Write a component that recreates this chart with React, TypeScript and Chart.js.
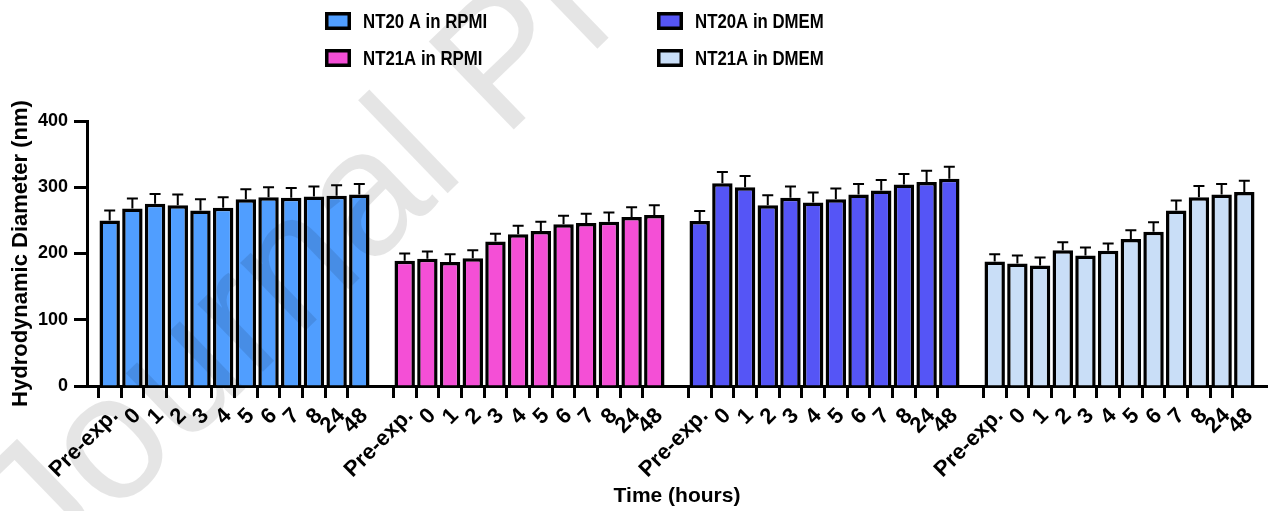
import React, { useEffect, useRef } from "react";
import { Chart, registerables } from "chart.js";

Chart.register(...registerables);

// ---------- data ----------
const timepoints = ["Pre-exp.", "0", "1", "2", "3", "4", "5", "6", "7", "8", "24", "48"];
const seriesNames = ["NT20 A in RPMI", "NT21A in RPMI", "NT20A in DMEM", "NT21A in DMEM"];
const seriesColors = ["#509EFF", "#F44FD6", "#5555F6", "#C9DEF7"];

const nt20aRpmi = [250, 268, 275, 273, 265, 269, 282, 285, 284, 286, 287, 289];
const nt20aRpmiSd = [15, 15, 15, 16, 17, 16, 15, 15, 15, 15, 16, 16];
const nt21aRpmi = [189, 192, 187, 193, 218, 229, 234, 244, 246, 248, 255, 258];
const nt21aRpmiSd = [11, 11, 12, 12, 12, 13, 14, 13, 14, 14, 15, 15];
const nt20aDmem = [249, 306, 300, 273, 284, 277, 282, 289, 295, 304, 308, 313];
const nt20aDmemSd = [15, 17, 17, 15, 17, 15, 16, 16, 16, 16, 17, 18];
const nt21aDmem = [188, 185, 182, 205, 197, 204, 222, 233, 265, 285, 289, 293];
const nt21aDmemSd = [11, 12, 12, 12, 12, 11, 13, 14, 15, 17, 16, 17];

const yTicks = [0, 100, 200, 300, 400];
const yTitle = "Hydrodynamic Diameter (nm)";
const xTitle = "Time (hours)";
const watermarkText = "Journal Pre-proof";

const FONT = '"Liberation Sans", Arial, Helvetica, sans-serif';

const groupValues = [nt20aRpmi, nt21aRpmi, nt20aDmem, nt21aDmem];
const groupErrors = [nt20aRpmiSd, nt21aRpmiSd, nt20aDmemSd, nt21aDmemSd];

// category slots: empty slot, group, empty slot, group, ... , empty slot
const labels: string[] = [""];
groupValues.forEach(() => {
  labels.push(...timepoints);
  labels.push("");
});

function spread(values: number[], gi: number): (number | null)[] {
  const out: (number | null)[] = labels.map(() => null);
  values.forEach((v, j) => {
    out[1 + gi * (timepoints.length + 1) + j] = v;
  });
  return out;
}

const errorBarPlugin = {
  id: "errorBars",
  afterDatasetsDraw(chart: any) {
    const ctx = chart.ctx;
    const y = chart.scales.y;
    ctx.save();
    ctx.strokeStyle = "#000";
    ctx.lineWidth = 2;
    chart.data.datasets.forEach((ds: any, di: number) => {
      const meta = chart.getDatasetMeta(di);
      meta.data.forEach((bar: any, i: number) => {
        const v = ds.data[i];
        const e = ds.errors[i];
        if (v == null || e == null) return;
        const top = y.getPixelForValue(v + e);
        ctx.beginPath();
        ctx.moveTo(bar.x, bar.y);
        ctx.lineTo(bar.x, top);
        ctx.moveTo(bar.x - 5.5, top);
        ctx.lineTo(bar.x + 5.5, top);
        ctx.stroke();
      });
    });
    ctx.restore();
  },
};

const legendPlugin = {
  id: "customLegend",
  afterDraw(chart: any) {
    const ctx = chart.ctx;
    const cols = [325, 657];
    const rows = [21, 58];
    ctx.save();
    chart.data.datasets.forEach((ds: any, i: number) => {
      const col = i < 2 ? 0 : 1;
      const row = i % 2;
      const bx = cols[col];
      const cy = rows[row];
      ctx.fillStyle = ds.backgroundColor;
      ctx.fillRect(bx, cy - 9, 26, 18);
      ctx.strokeStyle = "#000";
      ctx.lineWidth = 3.5;
      ctx.strokeRect(bx + 1.75, cy - 7.25, 22.5, 14.5);
      ctx.save();
      ctx.translate(bx + 38, cy);
      ctx.scale(0.8, 1);
      ctx.fillStyle = "#000";
      ctx.font = `bold 21px ${FONT}`;
      ctx.textBaseline = "middle";
      ctx.textAlign = "left";
      ctx.fillText(ds.label, 0, 1);
      ctx.restore();
    });
    ctx.restore();
  },
};

const watermarkPlugin = {
  id: "watermark",
  afterDraw(chart: any) {
    const ctx = chart.ctx;
    ctx.save();
    ctx.translate(47.6, 579.6);
    ctx.rotate((-44 * Math.PI) / 180);
    ctx.font = `178px ${FONT}`;
    ctx.fillStyle = "rgba(0,0,0,0.1)";
    ctx.textBaseline = "alphabetic";
    ctx.fillText(watermarkText, 0, 0);
    ctx.restore();
  },
};

export default function App() {
  const ref = useRef<HTMLCanvasElement | null>(null);

  useEffect(() => {
    if (!ref.current) return;
    const chart = new Chart(ref.current, {
      type: "bar",
      data: {
        labels,
        datasets: groupValues.map((vals, gi) => ({
          label: seriesNames[gi],
          data: spread(vals, gi),
          errors: spread(groupErrors[gi], gi),
          backgroundColor: seriesColors[gi],
          borderColor: "#000",
          borderWidth: 3.5,
          grouped: false,
          categoryPercentage: 1,
          barPercentage: 0.9,
        })) as any,
      },
      options: {
        animation: false,
        responsive: false,
        layout: { padding: { top: 121, right: 4, left: 0, bottom: 0 } },
        plugins: {
          legend: { display: false },
          tooltip: { enabled: false },
        },
        scales: {
          x: {
            type: "category",
            offset: false,
            afterFit: (s: any) => {
              s.height = 125;
              s.paddingLeft = 0;
              s.paddingRight = 0;
            },
            border: { display: true, color: "#000", width: 3 },
            grid: {
              drawOnChartArea: false,
              drawTicks: true,
              tickLength: 12,
              tickWidth: 3,
              tickColor: (c: any) => (labels[c.index] ? "#000" : "rgba(0,0,0,0)"),
            },
            ticks: {
              autoSkip: false,
              maxRotation: 45,
              minRotation: 45,
              padding: 5,
              labelOffset: 5,
              color: "#000",
              font: { family: FONT, size: 22, weight: "bold" },
            },
            title: {
              display: true,
              text: xTitle,
              color: "#000",
              font: { family: FONT, size: 21, weight: "bold" },
              padding: { top: 4, bottom: 2 },
            },
          },
          y: {
            min: 0,
            max: 400,
            afterFit: (s: any) => {
              s.width = 87;
            },
            afterBuildTicks: (s: any) => {
              s.ticks = yTicks.map((v) => ({ value: v }));
            },
            border: { display: true, color: "#000", width: 3 },
            grid: {
              drawOnChartArea: false,
              drawTicks: true,
              tickLength: 13,
              tickWidth: 3,
              tickColor: "#000",
            },
            ticks: {
              padding: 6,
              color: "#000",
              font: { family: FONT, size: 18, weight: "bold" },
            },
            title: {
              display: true,
              text: yTitle,
              color: "#000",
              font: { family: FONT, size: 22, weight: "bold" },
              padding: { top: 8, bottom: 0 },
            },
          },
        },
      } as any,
      plugins: [errorBarPlugin, legendPlugin, watermarkPlugin],
    });
    return () => chart.destroy();
  }, []);

  return (
    <div style={{ position: "absolute", left: 0, top: 0, width: 1271, height: 511, background: "#fff" }}>
      <canvas ref={ref} width={1271} height={511} style={{ display: "block" }} />
    </div>
  );
}
